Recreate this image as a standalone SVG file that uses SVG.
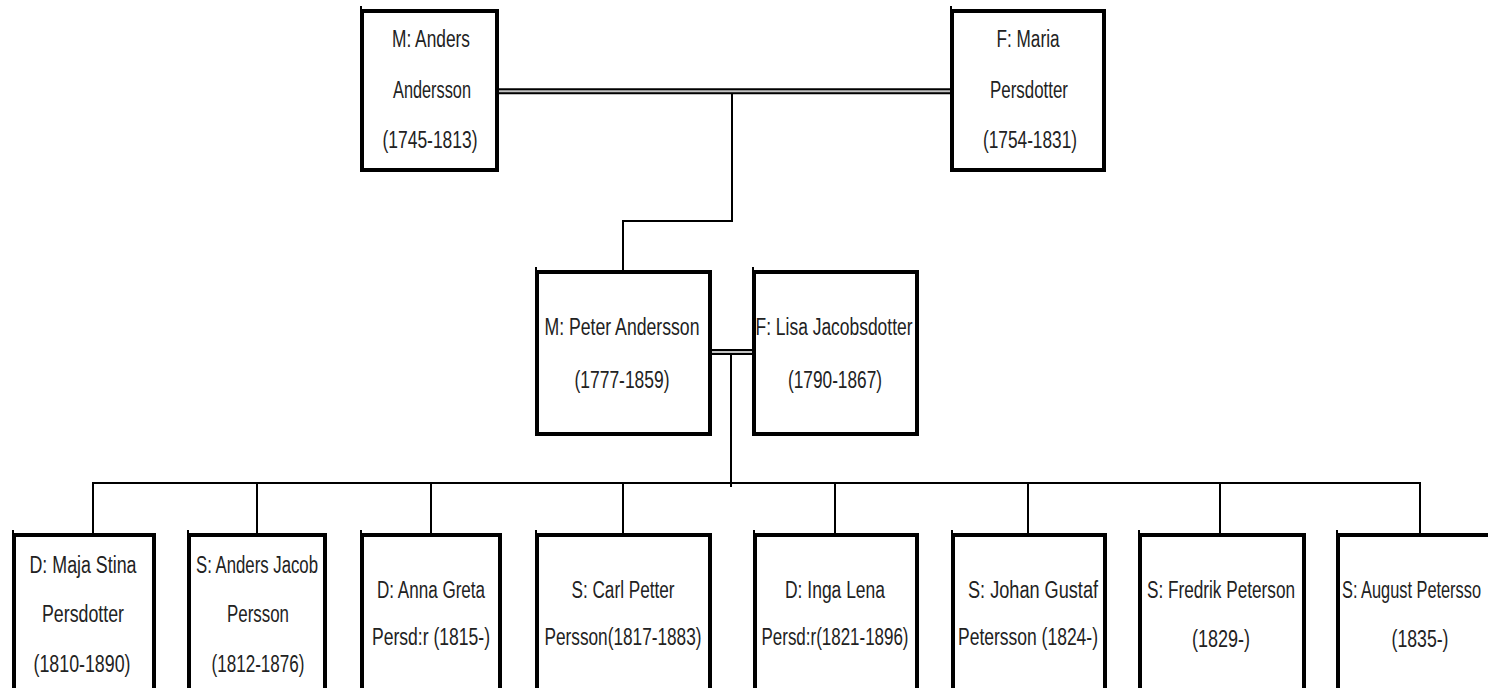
<svg xmlns="http://www.w3.org/2000/svg" width="1488" height="688" viewBox="0 0 1488 688">
<style>
.box{fill:#fff;stroke:#000;stroke-width:4}
.tick{stroke:#000;stroke-width:2}
.ln{stroke:#000;stroke-width:2;fill:none}
.dbl-o{stroke:#000;stroke-width:6}
.dbl-i{stroke:#c4c4c4;stroke-width:2}
text{font-family:"Liberation Sans Narrow","Liberation Sans",Arial,sans-serif;font-size:23px;fill:#222;text-anchor:middle}
</style>
<rect width="1488" height="688" fill="#fff"/>
<g id="connectors">
<line class="dbl-o" x1="498" y1="91.3" x2="951" y2="91.3"/>
<line class="dbl-i" x1="498" y1="91.3" x2="951" y2="91.3"/>
<polyline class="ln" points="732,94 732,221 623,221 623,271"/>
<line class="dbl-o" x1="710" y1="352" x2="754" y2="352"/>
<line class="dbl-i" x1="710" y1="352" x2="754" y2="352"/>
<line class="ln" x1="731" y1="355" x2="731" y2="487"/>
<line class="ln" x1="92" y1="483" x2="1421" y2="483"/>
<line class="ln" x1="93" y1="482" x2="93" y2="534"/>
<line class="ln" x1="257" y1="482" x2="257" y2="534"/>
<line class="ln" x1="431" y1="482" x2="431" y2="534"/>
<line class="ln" x1="623" y1="482" x2="623" y2="534"/>
<line class="ln" x1="835" y1="482" x2="835" y2="534"/>
<line class="ln" x1="1028" y1="482" x2="1028" y2="534"/>
<line class="ln" x1="1220" y1="482" x2="1220" y2="534"/>
<line class="ln" x1="1420" y1="482" x2="1420" y2="534"/>
</g>
<g id="anders">
<rect class="box" x="362" y="11" width="135" height="159"/>
<line class="tick" x1="361" y1="6" x2="361" y2="11"/>
<text x="431" y="47" textLength="78" lengthAdjust="spacingAndGlyphs">M: Anders</text>
<text x="432" y="98" textLength="78" lengthAdjust="spacingAndGlyphs">Andersson</text>
<text x="430" y="148" textLength="95" lengthAdjust="spacingAndGlyphs">(1745-1813)</text>
</g>
<g id="maria">
<rect class="box" x="952" y="11" width="152" height="159"/>
<line class="tick" x1="951" y1="6" x2="951" y2="11"/>
<text x="1028" y="47" textLength="63" lengthAdjust="spacingAndGlyphs">F: Maria</text>
<text x="1029" y="98" textLength="78" lengthAdjust="spacingAndGlyphs">Persdotter</text>
<text x="1030" y="148" textLength="94" lengthAdjust="spacingAndGlyphs">(1754-1831)</text>
</g>
<g id="peter">
<rect class="box" x="537" y="272" width="173" height="162"/>
<line class="tick" x1="536" y1="267" x2="536" y2="272"/>
<text x="622" y="335" textLength="155" lengthAdjust="spacingAndGlyphs">M: Peter Andersson</text>
<text x="622" y="388" textLength="95" lengthAdjust="spacingAndGlyphs">(1777-1859)</text>
</g>
<g id="lisa">
<rect class="box" x="754" y="272" width="163" height="162"/>
<line class="tick" x1="753" y1="267" x2="753" y2="272"/>
<text x="834" y="335" textLength="157" lengthAdjust="spacingAndGlyphs">F: Lisa Jacobsdotter</text>
<text x="835" y="388" textLength="94" lengthAdjust="spacingAndGlyphs">(1790-1867)</text>
</g>
<g id="maja">
<rect class="box" x="14" y="535" width="140" height="170"/>
<line class="tick" x1="13" y1="530" x2="13" y2="535"/>
<text x="83" y="573" textLength="107" lengthAdjust="spacingAndGlyphs">D: Maja Stina</text>
<text x="83" y="622" textLength="82" lengthAdjust="spacingAndGlyphs">Persdotter</text>
<text x="82" y="672" textLength="97" lengthAdjust="spacingAndGlyphs">(1810-1890)</text>
</g>
<g id="anders-jacob">
<rect class="box" x="189" y="535" width="136" height="170"/>
<line class="tick" x1="188" y1="530" x2="188" y2="535"/>
<text x="257" y="573" textLength="122" lengthAdjust="spacingAndGlyphs">S: Anders Jacob</text>
<text x="258" y="622" textLength="62" lengthAdjust="spacingAndGlyphs">Persson</text>
<text x="258" y="672" textLength="93" lengthAdjust="spacingAndGlyphs">(1812-1876)</text>
</g>
<g id="anna-greta">
<rect class="box" x="362" y="535" width="138" height="170"/>
<line class="tick" x1="361" y1="530" x2="361" y2="535"/>
<text x="431" y="598" textLength="108" lengthAdjust="spacingAndGlyphs">D: Anna Greta</text>
<text x="431" y="645" textLength="118" lengthAdjust="spacingAndGlyphs">Persd:r (1815-)</text>
</g>
<g id="carl-petter">
<rect class="box" x="537" y="535" width="173" height="170"/>
<line class="tick" x1="536" y1="530" x2="536" y2="535"/>
<text x="623" y="598" textLength="103" lengthAdjust="spacingAndGlyphs">S: Carl Petter</text>
<text x="623" y="645" textLength="157" lengthAdjust="spacingAndGlyphs">Persson(1817-1883)</text>
</g>
<g id="inga-lena">
<rect class="box" x="755" y="535" width="162" height="170"/>
<line class="tick" x1="754" y1="530" x2="754" y2="535"/>
<text x="835" y="598" textLength="100" lengthAdjust="spacingAndGlyphs">D: Inga Lena</text>
<text x="835" y="645" textLength="147" lengthAdjust="spacingAndGlyphs">Persd:r(1821-1896)</text>
</g>
<g id="johan-gustaf">
<rect class="box" x="953" y="535" width="152" height="170"/>
<line class="tick" x1="952" y1="530" x2="952" y2="535"/>
<text x="1033" y="598" textLength="130" lengthAdjust="spacingAndGlyphs">S: Johan Gustaf</text>
<text x="1028" y="645" textLength="140" lengthAdjust="spacingAndGlyphs">Petersson (1824-)</text>
</g>
<g id="fredrik">
<rect class="box" x="1140" y="535" width="164" height="170"/>
<line class="tick" x1="1139" y1="530" x2="1139" y2="535"/>
<text x="1221" y="598" textLength="148" lengthAdjust="spacingAndGlyphs">S: Fredrik Peterson</text>
<text x="1221" y="647" textLength="58" lengthAdjust="spacingAndGlyphs">(1829-)</text>
</g>
<g id="august">
<rect class="box" x="1338" y="535" width="164" height="170"/>
<line class="tick" x1="1337" y1="530" x2="1337" y2="535"/>
<text x="1481" y="598" text-anchor="end" style="text-anchor:end" textLength="139" lengthAdjust="spacingAndGlyphs">S: August Petersso</text>
<text x="1420" y="647" textLength="57" lengthAdjust="spacingAndGlyphs">(1835-)</text>
</g>
</svg>
